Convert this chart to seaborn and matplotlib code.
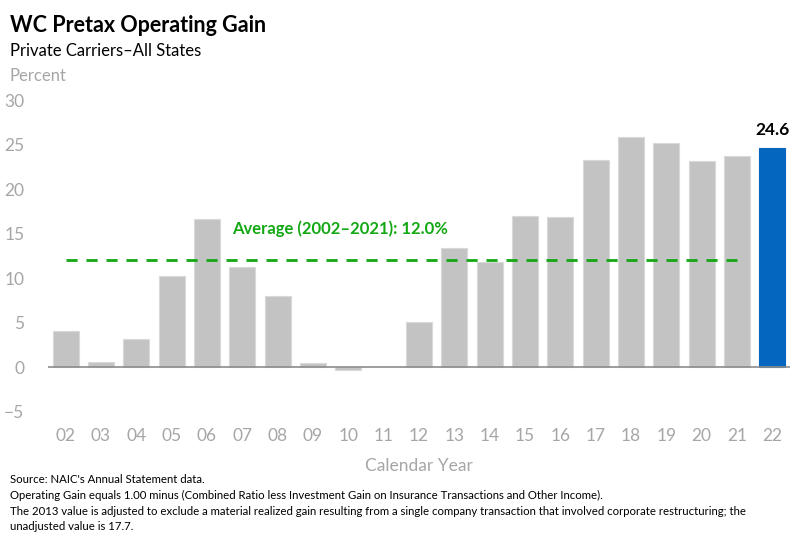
import matplotlib
matplotlib.use('Agg')
import matplotlib.pyplot as plt
import seaborn as sns
import pandas as pd
import numpy as np

# data
years = ['02', '03', '04', '05', '06', '07', '08', '09', '10', '11',
         '12', '13', '14', '15', '16', '17', '18', '19', '20', '21', '22']
gain = [4.1, 0.6, 3.2, 10.3, 16.7, 11.3, 8.0, 0.5, -0.3, 0.0,
        5.1, 13.4, 11.8, 17.0, 16.9, 23.3, 25.9, 25.2, 23.2, 23.7, 24.6]
avg_value = 12.0
avg_label = 'Average (2002\u20132021): 12.0%'
footnotes = ["Source: NAIC's Annual Statement data.",
             'Operating Gain equals 1.00 minus (Combined Ratio less Investment Gain on Insurance Transactions and Other Income).',
             'The 2013 value is adjusted to exclude a material realized gain resulting from a single company transaction that involved corporate restructuring; the',
             'unadjusted value is 17.7.']

sns.set_theme(style='white')
plt.rcParams['font.family'] = ['Lato', 'DejaVu Sans']

grey_txt = '#a6a6a6'
green = '#13a813'
blue = '#0566c0'
df = pd.DataFrame({'year': years, 'gain': gain})
df['hl'] = ['last' if y == years[-1] else 'prev' for y in years]

fig = plt.figure(figsize=(8, 5.36), dpi=100)
ax = fig.add_axes([0.06, 0.232, 0.9275, 0.581])

sns.barplot(data=df, x='year', y='gain', hue='hl',
            palette={'prev': '#c3c3c3', 'last': blue}, saturation=1,
            width=0.73, dodge=False, legend=False, ax=ax,
            edgecolor='#d9d9d9', linewidth=0.8)
for p in ax.patches:
    if abs(p.get_height()) < 1e-9:
        p.set_linewidth(0)
    elif p.get_facecolor()[0] < 0.2:
        p.set_edgecolor(blue)

ax.set_ylim(-5, 30)
ax.set_xlim(-0.5, 20.5)
ax.set_yticks(np.arange(-5, 31, 5))
ax.set_yticklabels([str(v).replace('-', '\u2212') for v in range(-5, 31, 5)])
ax.tick_params(axis='both', labelsize=12.5, colors=grey_txt, length=0)
ax.tick_params(axis='y', pad=17)
ax.tick_params(axis='x', pad=12)
for s in ax.spines.values():
    s.set_visible(False)
ax.axhline(0, color='#8c8c8c', lw=1.2, zorder=3)

ax.set_xlabel('Calendar Year', fontsize=12.5, color=grey_txt, labelpad=10)
ax.set_ylabel('')

# average line from first to second to last year
ax.plot([0, len(years) - 2], [avg_value, avg_value], ls=(0, (4, 3.2)),
        color=green, lw=2, zorder=4)
ax.text(4.72, 15.6, avg_label, color=green, fontsize=12, fontweight='bold',
        ha='left', va='center')

ax.text(len(years) - 1, gain[-1] + 1.2, f'{gain[-1]:.1f}', ha='center', va='bottom',
        fontsize=12.5, fontweight='bold', color='black')

fig.text(0.012, 0.953, 'WC Pretax Operating Gain', fontsize=15.5, fontweight='bold',
         color='black', va='center')
fig.text(0.012, 0.905, 'Private Carriers\u2013All States', fontsize=12,
         color='black', va='center')
fig.text(0.012, 0.858, 'Percent', fontsize=12, color=grey_txt, va='center')

ys = [0.105, 0.075, 0.045, 0.017]
for t, y in zip(footnotes, ys):
    fig.text(0.012, y, t, fontsize=8.2, color='black', va='center')

fig.savefig('out.png', dpi=100)
